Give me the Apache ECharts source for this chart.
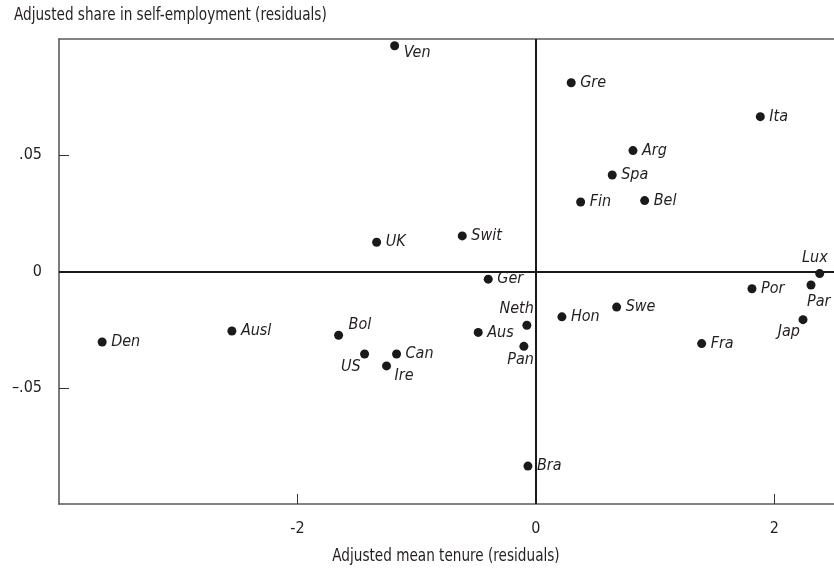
<!DOCTYPE html>
<html>
<head>
<meta charset="utf-8">
<script src="https://cdn.jsdelivr.net/npm/echarts@6/dist/echarts.min.js"></script>
<style>
html,body{margin:0;padding:0;background:#fff;}
#chart{width:834px;height:575px;}
</style>
</head>
<body>
<div id="chart"></div>
<script>
// Data
var countries = ['Ven','Gre','Ita','Arg','Spa','Fin','Bel','UK','Swit','Ger','Lux','Por','Par','Neth','Hon','Swe','Aus','Pan','Bol','Ausl','Den','US','Can','Ire','Jap','Fra','Bra'];
var tenure = [-1.185, 0.296, 1.882, 0.814, 0.640, 0.375, 0.912, -1.336, -0.618, -0.400, 2.380, 1.812, 2.307, -0.076, 0.218, 0.677, -0.484, -0.101, -1.655, -2.550, -3.638, -1.437, -1.169, -1.253, 2.240, 1.390, -0.067];
var selfEmp = [0.0971, 0.0812, 0.0666, 0.0520, 0.0415, 0.0299, 0.0305, 0.0126, 0.0153, -0.0033, -0.0009, -0.0074, -0.0058, -0.0231, -0.0195, -0.0153, -0.0262, -0.0322, -0.0274, -0.0256, -0.0303, -0.0355, -0.0355, -0.0406, -0.0207, -0.0310, -0.0837];
var xTicks = [-2, 0, 2];
var yTicks = [-0.05, 0, 0.05];
var xTitle = 'Adjusted mean tenure (residuals)';
var yTitle = 'Adjusted share in self-employment (residuals)';

// Label placement (style only)
var labelPlace = {
  'Ven': {offset:[9,7], align:'left'},
  'Neth': {offset:[7,-16], align:'right'},
  'Pan': {offset:[10,13], align:'right'},
  'Bol': {offset:[10,-10], align:'left'},
  'US': {offset:[-4,13], align:'right'},
  'Ire': {offset:[8,10], align:'left'},
  'Lux': {offset:[8,-16], align:'right'},
  'Par': {offset:[-4,17], align:'left'},
  'Jap': {offset:[-3,12], align:'right'}
};

var FONT = '"Liberation Sans Narrow", "DejaVu Sans Condensed", "Noto Sans", sans-serif';

var points = countries.map(function(c, i){
  var p = labelPlace[c] || {offset:[9,0], align:'left'};
  return {
    name: c,
    value: [tenure[i], selfEmp[i]],
    label: {show:true, position:'inside', offset:p.offset, align:p.align, verticalAlign:'middle', formatter: c}
  };
});

function yFmt(v){
  if (Math.abs(v) < 1e-9) return '0';
  var s = Math.abs(v).toFixed(2).replace(/^0/, '');
  return v < 0 ? '\u2013' + s : s;
}

var chart = echarts.init(document.getElementById('chart'), null, {renderer:'canvas'});
chart.setOption({
  animation: false,
  backgroundColor: '#fff',
  textStyle: {fontFamily: FONT},
  grid: {left:59, top:39, right:0, bottom:71, containLabel:false},
  xAxis: [{
    type:'value', min:-4, max:2.5, position:'bottom',
    axisLine:{show:true, onZero:false, lineStyle:{color:'#5a5a5a', width:1.6}},
    axisTick:{show:true, inside:true, length:10, customValues:xTicks, lineStyle:{color:'#333', width:1}},
    axisLabel:{show:true, customValues:xTicks, margin:17, color:'#231f20', fontSize:16, fontFamily:FONT,
      formatter:function(v){ return v < 0 ? '-' + Math.abs(v) : String(v); }},
    splitLine:{show:false}
  },{
    type:'value', min:-4, max:2.5, position:'top',
    axisLine:{show:true, onZero:false, lineStyle:{color:'#5a5a5a', width:1.6}},
    axisTick:{show:false}, axisLabel:{show:false}, splitLine:{show:false}
  }],
  yAxis: {
    type:'value', min:-0.1, max:0.1,
    axisLine:{show:true, onZero:false, lineStyle:{color:'#5a5a5a', width:1.6}},
    axisTick:{show:true, inside:true, length:10, customValues:yTicks, lineStyle:{color:'#333', width:1}},
    axisLabel:{show:true, customValues:yTicks, margin:17, color:'#231f20', fontSize:16, fontFamily:FONT, formatter:yFmt},
    splitLine:{show:false}
  },
  graphic: [
    {type:'text', x:14, y:16, originX:0, originY:0, scaleX:0.89,
      style:{text:yTitle, fill:'#231f20', font:'17px ' + FONT, align:'left', verticalAlign:'middle'}},
    {type:'text', x:446, y:557, originX:0, originY:0, scaleX:0.89,
      style:{text:xTitle, fill:'#231f20', font:'17px ' + FONT, align:'center', verticalAlign:'middle'}}
  ],
  series: [{
    type:'scatter',
    xAxisIndex:0,
    symbol:'circle',
    symbolSize:9,
    itemStyle:{color:'#1a1a1a', opacity:1},
    label:{color:'#231f20', fontSize:16, fontStyle:'italic', fontFamily:FONT},
    emphasis:{disabled:true},
    data: points,
    markLine: {
      silent:true, symbol:'none', animation:false,
      label:{show:false},
      lineStyle:{color:'#1a1a1a', width:2, type:'solid'},
      data:[{xAxis:0}, {yAxis:0}]
    }
  }]
});
</script>
</body>
</html>
